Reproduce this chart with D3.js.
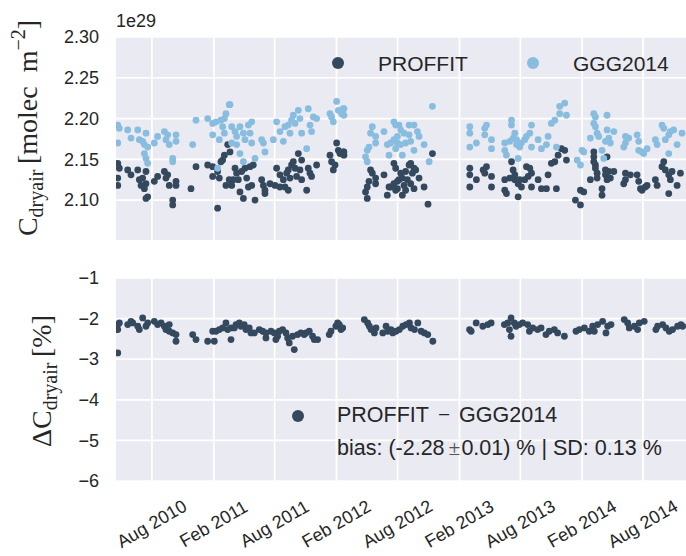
<!DOCTYPE html>
<html><head><meta charset="utf-8">
<script src="https://cdn.jsdelivr.net/npm/d3@7"></script>
<style>body{margin:0;background:#fff;} svg{display:block;}</style>
</head><body>
<svg id="c" width="686" height="556"></svg>
<script>
// ---- data (dates as decimal years) ----
const proffitDates = [2010.302,2010.315,2010.302,2010.302,2010.383,2010.410,2010.465,2010.478,2010.505,2010.492,2010.532,2010.532,2010.519,2010.546,2010.532,2010.600,2010.627,2010.682,2010.695,2010.709,2010.722,2010.777,2010.777,2010.750,2010.750,2010.899,2010.940,2011.035,2011.076,2011.076,2011.130,2011.116,2011.143,2011.157,2011.171,2011.198,2011.184,2011.211,2011.116,
2011.217,2011.258,2011.271,2011.285,2011.244,2011.231,2011.312,2011.339,2011.353,2011.380,2011.407,2011.394,2011.367,2011.298,2011.326,2011.421,2011.475,2011.489,2011.502,2011.502,2011.543,2011.584,2011.597,2011.624,2011.624,2011.652,2011.665,2011.679,2011.692,2011.706,2011.719,2011.733,2011.747,2011.774,2011.760,2011.692,2011.787,2011.801,2011.801,2011.842,2011.855,2011.869,2011.882,2011.923,2012.032,2012.045,2012.059,2012.073,2012.086,2012.100,2012.113,2012.140,
2012.145,2012.145,2012.865,2012.362,2012.376,2012.403,2012.403,2012.349,2012.335,2012.321,2012.335,2012.471,2012.552,2012.566,2012.607,2012.593,2012.620,2012.647,2012.675,2012.688,2012.715,2012.729,2012.702,2012.688,2012.715,2012.756,2012.797,2012.525,2012.552,2012.580,2012.566,2012.634,2012.647,2012.512,2012.498,2012.620,2012.580,2012.661,2012.829,
2013.169,2013.169,2013.169,2013.223,2013.278,2013.305,2013.291,2013.346,2013.346,2013.454,2013.454,2013.468,2013.495,2013.509,2013.522,2013.536,2013.536,2013.563,2013.576,2013.590,2013.563,2013.617,2013.631,2013.658,2013.672,2013.645,2013.672,2013.726,2013.753,2013.794,2013.807,2013.834,2013.862,2013.875,2013.889,2013.916,2013.943,2013.957,
2014.030,2014.071,2014.071,2014.098,2014.152,2014.180,2014.180,2014.180,2014.193,2014.193,2014.207,2014.207,2014.247,2014.247,2014.275,2014.275,2014.288,2014.302,2014.288,2014.343,2014.315,2014.438,2014.438,2014.424,2014.478,2014.533,2014.546,2014.560,2014.573,2014.600,2014.614,2014.682,2014.696,2014.736,2014.750,2014.763,2014.791,2014.804,2014.818,2014.859,2014.886,2014.791];
const proffitValues = [2.145,2.139,2.127,2.118,2.137,2.131,2.137,2.125,2.127,2.118,2.135,2.120,2.114,2.104,2.102,2.123,2.129,2.135,2.127,2.131,2.118,2.123,2.118,2.100,2.094,2.114,2.141,2.143,2.141,2.129,2.127,2.135,2.147,2.149,2.155,2.168,2.118,2.125,2.090,
2.159,2.139,2.133,2.125,2.125,2.118,2.135,2.139,2.127,2.141,2.143,2.118,2.116,2.110,2.102,2.100,2.125,2.118,2.112,2.108,2.120,2.118,2.139,2.131,2.116,2.125,2.116,2.133,2.137,2.127,2.143,2.147,2.139,2.157,2.129,2.112,2.137,2.125,2.149,2.112,2.139,2.133,2.129,2.143,2.155,2.147,2.137,2.143,2.170,2.161,2.157,2.159,
2.159,2.155,2.157,2.137,2.133,2.127,2.120,2.123,2.116,2.110,2.102,2.131,2.145,2.139,2.133,2.125,2.127,2.135,2.143,2.145,2.139,2.137,2.133,2.120,2.114,2.127,2.116,2.116,2.120,2.114,2.112,2.118,2.112,2.116,2.106,2.106,2.123,2.125,2.095,
2.139,2.131,2.116,2.125,2.137,2.141,2.133,2.129,2.116,2.125,2.112,2.108,2.127,2.147,2.137,2.131,2.125,2.120,2.125,2.116,2.104,2.125,2.141,2.139,2.133,2.129,2.116,2.125,2.114,2.114,2.131,2.145,2.147,2.114,2.155,2.163,2.161,2.149,
2.100,2.094,2.112,2.110,2.125,2.159,2.153,2.147,2.143,2.139,2.133,2.127,2.114,2.106,2.137,2.131,2.125,2.135,2.153,2.135,2.127,2.133,2.125,2.120,2.131,2.131,2.123,2.114,2.112,2.116,2.118,2.125,2.118,2.141,2.147,2.137,2.131,2.125,2.135,2.118,2.133,2.108];

const gggDates = [2010.302,2010.315,2010.383,2010.410,2010.465,2010.478,2010.505,2010.532,2010.519,2010.546,2010.302,2010.600,2010.627,2010.682,2010.709,2010.695,2010.722,2010.777,2010.777,2010.519,2010.532,2010.546,2010.750,2010.750,2010.913,2010.940,2011.035,2011.076,2011.103,2011.143,2011.171,2011.184,2011.211,2011.157,2011.171,2011.076,2011.130,2011.116,
2011.217,2011.231,2011.258,2011.271,2011.298,2011.326,2011.339,2011.367,2011.394,2011.380,2011.394,2011.231,2011.271,2011.298,2011.421,2011.326,2011.475,2011.489,2011.502,2011.570,2011.597,2011.624,2011.652,2011.665,2011.692,2011.706,2011.719,2011.733,2011.747,2011.774,2011.787,2011.801,2011.855,2011.869,2011.882,2011.896,2011.923,2011.842,2012.032,2012.045,2012.059,2012.086,2012.100,2012.127,2012.140,
2012.145,2012.145,2012.865,2012.362,2012.376,2012.403,2012.403,2012.471,2012.552,2012.566,2012.593,2012.607,2012.634,2012.675,2012.715,2012.743,2012.756,2012.675,2012.688,2012.580,2012.552,2012.525,2012.580,2012.607,2012.647,2012.566,2012.498,2012.512,2012.620,2012.715,2012.797,2012.349,2012.335,2012.321,2012.335,2012.838,
2013.169,2013.169,2013.169,2013.223,2013.291,2013.305,2013.291,2013.346,2013.346,2013.454,2013.495,2013.509,2013.509,2013.536,2013.522,2013.550,2013.550,2013.576,2013.590,2013.617,2013.631,2013.658,2013.672,2013.672,2013.726,2013.753,2013.794,2013.807,2013.834,2013.862,2013.902,2013.902,2013.943,2013.957,2013.875,2013.454,2013.468,2013.563,
2014.044,2014.071,2014.084,2014.098,2014.152,2014.180,2014.193,2014.180,2014.193,2014.207,2014.220,2014.288,2014.288,2014.302,2014.275,2014.315,2014.343,2014.247,2014.261,2014.438,2014.465,2014.438,2014.424,2014.533,2014.546,2014.546,2014.573,2014.587,2014.614,2014.682,2014.696,2014.736,2014.750,2014.763,2014.791,2014.804,2014.831,2014.791,2014.859,2014.899];
const gggValues = [2.192,2.188,2.186,2.176,2.186,2.174,2.172,2.182,2.168,2.165,2.170,2.170,2.178,2.184,2.180,2.174,2.168,2.180,2.172,2.157,2.151,2.145,2.151,2.147,2.168,2.198,2.200,2.194,2.196,2.198,2.200,2.206,2.217,2.190,2.182,2.180,2.174,2.139,
2.217,2.190,2.184,2.178,2.190,2.182,2.174,2.192,2.196,2.182,2.170,2.170,2.168,2.157,2.151,2.147,2.174,2.170,2.159,2.174,2.196,2.184,2.172,2.190,2.192,2.182,2.198,2.204,2.194,2.210,2.200,2.182,2.212,2.192,2.184,2.202,2.200,2.163,2.206,2.202,2.196,2.221,2.210,2.206,2.212,
2.212,2.204,2.215,2.182,2.190,2.178,2.170,2.184,2.196,2.192,2.192,2.186,2.182,2.192,2.192,2.184,2.178,2.180,2.172,2.178,2.174,2.170,2.170,2.168,2.170,2.163,2.168,2.155,2.155,2.161,2.168,2.165,2.161,2.153,2.147,2.147,
2.190,2.182,2.165,2.170,2.188,2.192,2.180,2.174,2.163,2.170,2.172,2.198,2.192,2.182,2.176,2.174,2.168,2.165,2.170,2.174,2.178,2.182,2.192,2.165,2.174,2.163,2.168,2.178,2.194,2.198,2.206,2.215,2.219,2.204,2.165,2.161,2.155,2.151,
2.149,2.143,2.161,2.159,2.176,2.206,2.202,2.194,2.190,2.182,2.178,2.204,2.186,2.176,2.172,2.170,2.184,2.161,2.151,2.178,2.176,2.170,2.165,2.180,2.172,2.161,2.159,2.157,2.163,2.174,2.168,2.192,2.188,2.174,2.180,2.184,2.186,2.157,2.168,2.182];

const diffDates = [2010.302,2010.302,2010.315,2010.383,2010.410,2010.424,2010.465,2010.478,2010.505,2010.532,2010.546,2010.600,2010.627,2010.655,2010.682,2010.695,2010.722,2010.722,2010.750,2010.777,2010.777,2010.302,2010.913,2010.940,2011.035,2011.089,2011.076,2011.103,2011.130,2011.157,2011.184,2011.198,2011.225,2011.225,2011.252,2011.266,2011.293,2011.306,2011.333,2011.347,2011.374,2011.388,2011.415,2011.456,2011.483,2011.510,2011.510,2011.551,2011.578,2011.605,2011.591,2011.619,2011.646,2011.673,2011.687,2011.700,2011.727,2011.741,2011.768,2011.795,2011.822,
2011.836,2011.863,2011.890,2011.904,2011.931,2012.026,2012.040,2012.080,2012.094,2012.108,2012.121,2012.135,2012.311,2012.338,2012.352,2012.366,2012.393,2012.406,2012.461,2012.488,2012.501,2012.528,2012.542,2012.569,2012.596,2012.624,2012.651,2012.678,2012.691,2012.719,2012.746,2012.773,2012.800,2012.827,2012.868,2013.167,2013.180,2013.221,2013.275,2013.316,2013.343,
2013.451,2013.478,2013.505,2013.492,2013.505,2013.532,2013.546,2013.573,2013.600,2013.641,2013.655,2013.682,2013.722,2013.750,2013.790,2013.817,2013.858,2013.885,2013.940,2014.035,2014.062,2014.103,2014.143,2014.171,2014.184,2014.211,2014.252,2014.279,2014.293,2014.320,2014.428,2014.456,2014.469,2014.510,2014.537,2014.551,2014.591,2014.686,2014.700,2014.741,2014.768,2014.795,2014.822,2014.863,2014.890,2014.904];
const diffValues = [-2.148,-2.271,-2.107,-2.148,-2.066,-2.107,-2.189,-2.271,-1.984,-2.189,-2.107,-2.066,-2.148,-2.107,-2.189,-2.271,-2.148,-2.312,-2.353,-2.394,-2.558,-2.846,-2.394,-2.517,-2.558,-2.558,-2.312,-2.312,-2.271,-2.230,-2.107,-2.271,-2.230,-2.517,-2.230,-2.148,-2.107,-2.189,-2.148,-2.271,-2.230,-2.353,-2.353,-2.271,-2.312,-2.353,-2.476,-2.312,-2.353,-2.435,-2.517,-2.312,-2.271,-2.353,-2.476,-2.599,-2.435,-2.763,-2.394,-2.353,-2.394,
-2.353,-2.312,-2.435,-2.517,-2.517,-2.394,-2.312,-2.189,-2.107,-2.148,-2.271,-2.230,-2.025,-2.107,-2.189,-2.271,-2.353,-2.230,-2.353,-2.189,-2.312,-2.271,-2.353,-2.312,-2.271,-2.189,-2.148,-2.107,-2.230,-2.271,-2.107,-2.312,-2.353,-2.394,-2.558,-2.271,-2.312,-2.107,-2.189,-2.148,-2.107,
-2.148,-2.107,-1.984,-2.271,-2.435,-2.107,-2.189,-2.148,-2.107,-2.148,-2.312,-2.230,-2.271,-2.230,-2.394,-2.312,-2.271,-2.353,-2.435,-2.312,-2.271,-2.230,-2.312,-2.189,-2.312,-2.148,-2.066,-2.353,-2.189,-2.148,-2.025,-2.107,-2.230,-2.189,-2.271,-2.107,-2.066,-2.271,-2.189,-2.148,-2.230,-2.312,-2.271,-2.189,-2.148,-2.189];

const xTickDates = ["2010-08-01","2011-02-01","2011-08-01","2012-02-01","2012-08-01","2013-02-01","2013-08-01","2014-02-01","2014-08-01"];
const xDomain = ["2010-04-16","2014-12-07"];
const topTicks = [2.10,2.15,2.20,2.25,2.30];
const topDomain = [2.051,2.30];
const botTicks = [-6,-5,-4,-3,-2,-1];
const botDomain = [-6,-1];
const seriesNames = ["PROFFIT","GGG2014"];
const diffName = ["PROFFIT", "\u2212", "GGG2014"];
const statsText = ["bias: (-2.28", "\u00b1", "0.01) % | SD: 0.13 %"];

// ---- rendering ----
const DARK = "#34495e", LIGHT = "#88bde0", BG = "#eaeaf2", TXT = "#262626";
const SANS = "'Liberation Sans', Arial, sans-serif";
const SERIF = "'Liberation Serif', 'DejaVu Serif', serif";

function decYear(y){
  const yr = Math.floor(y);
  const s = Date.UTC(yr,0,1), e = Date.UTC(yr+1,0,1);
  return new Date(s + (y-yr)*(e-s));
}
const svg = d3.select("#c");
const L = 116, R = 686;
const x = d3.scaleUtc().domain(xDomain.map(d=>new Date(d))).range([L,R]);
const tickDates = xTickDates.map(d=>new Date(d));

function panel(top, bottom, domain, ticks, fmt){
  const y = d3.scaleLinear().domain(domain).range([bottom, top]);
  const g = svg.append("g");
  g.append("rect").attr("x",L).attr("y",top).attr("width",R-L).attr("height",bottom-top).attr("fill",BG);
  g.selectAll(".vg").data(tickDates).join("line")
    .attr("x1",d=>x(d)).attr("x2",d=>x(d)).attr("y1",top).attr("y2",bottom)
    .attr("stroke","#fff").attr("stroke-width",1.7);
  g.selectAll(".hg").data(ticks).join("line")
    .attr("x1",L).attr("x2",R).attr("y1",d=>y(d)).attr("y2",d=>y(d))
    .attr("stroke","#fff").attr("stroke-width",1.7);
  const yAxis = d3.axisLeft(y).tickValues(ticks).tickSize(0).tickPadding(0).tickFormat(fmt);
  const ag = svg.append("g").attr("transform",`translate(${L-17},0)`).call(yAxis);
  ag.select(".domain").remove();
  ag.selectAll("text").attr("font-family",SANS).attr("font-size",18).attr("fill",TXT);
  return y;
}

const yTop = panel(37, 240, topDomain, topTicks, d=>d.toFixed(2));
const yBot = panel(278, 481, botDomain, botTicks, d=>String(d).replace("-","\u2212"));

// clip
svg.append("clipPath").attr("id","cp1").append("rect").attr("x",L).attr("y",37).attr("width",R-L).attr("height",203);
svg.append("clipPath").attr("id","cp2").append("rect").attr("x",L).attr("y",278).attr("width",R-L).attr("height",203);

const pts1 = svg.append("g").attr("clip-path","url(#cp1)");
pts1.selectAll(".p").data(d3.zip(proffitDates, proffitValues)).join("circle")
  .attr("cx",d=>x(decYear(d[0]))).attr("cy",d=>yTop(d[1])).attr("r",3.4).attr("fill",DARK);
pts1.selectAll(".g").data(d3.zip(gggDates, gggValues)).join("circle")
  .attr("cx",d=>x(decYear(d[0]))).attr("cy",d=>yTop(d[1])).attr("r",3.4).attr("fill",LIGHT);

const pts2 = svg.append("g").attr("clip-path","url(#cp2)");
pts2.selectAll(".d").data(d3.zip(diffDates, diffValues)).join("circle")
  .attr("cx",d=>x(decYear(d[0]))).attr("cy",d=>yBot(d[1])).attr("r",3.4).attr("fill",DARK);

// x axis (bottom panel)
const xAxis = d3.axisBottom(x).tickValues(tickDates).tickSize(0).tickFormat(d3.utcFormat("%b %Y"));
const xg = svg.append("g").attr("transform","translate(0,481)").call(xAxis);
xg.select(".domain").remove();
xg.selectAll("text").attr("font-family",SANS).attr("font-size",18).attr("fill",TXT)
  .attr("text-anchor","middle").attr("dy",null).attr("y",null)
  .attr("transform","translate(0,44) rotate(-30)").attr("dominant-baseline","middle");

// offset text
svg.append("text").attr("x",116).attr("y",27).attr("font-family",SANS).attr("font-size",18).attr("fill",TXT).text("1e29");

// legend top
const legTop = [{n:seriesNames[0],c:DARK,x:338},{n:seriesNames[1],c:LIGHT,x:533}];
legTop.forEach(d=>{
  svg.append("circle").attr("cx",d.x).attr("cy",63).attr("r",6).attr("fill",d.c);
  svg.append("text").attr("x",d.x+40).attr("y",71).attr("font-family",SANS).attr("font-size",21).attr("fill",TXT).text(d.n);
});
// legend bottom
svg.append("circle").attr("cx",298).attr("cy",416).attr("r",6).attr("fill",DARK);
const t1 = svg.append("text").attr("x",337).attr("y",422).attr("font-family",SANS).attr("font-size",21.5).attr("fill",TXT);
t1.append("tspan").text(diffName[0]);
t1.append("tspan").attr("dx",9).attr("font-family",SERIF).text(diffName[1]);
t1.append("tspan").attr("dx",9).text(diffName[2]);
const t2 = svg.append("text").attr("x",337).attr("y",455).attr("font-family",SANS).attr("font-size",21.5).attr("fill",TXT);
t2.append("tspan").text(statsText[0]);
t2.append("tspan").attr("dx",4).attr("font-family",SERIF).attr("fill","#555").text(statsText[1]);
t2.append("tspan").attr("dx",1).text(statsText[2]);

// y labels
function ylab(cx, cy, parts){
  const t = svg.append("text").attr("transform",`translate(${cx},${cy}) rotate(-90)`)
    .attr("text-anchor","middle").attr("font-family",SERIF).attr("font-size",28).attr("fill",TXT);
  parts.forEach(p=>{
    const ts = t.append("tspan").text(p.t);
    if(p.sub){ ts.attr("font-size",20).attr("dy",6); }
    if(p.sup){ ts.attr("font-size",20).attr("dy",-12); }
    if(p.back){ ts.attr("dy",p.back); }
  });
}
ylab(37, 128, [{t:"C"},{t:"dryair",sub:true},{t:"\u2009[molec\u2002m",back:-6},{t:"\u22122",sup:true},{t:"]",back:12}]);
ylab(51, 381, [{t:"\u0394C"},{t:"dryair",sub:true},{t:"\u2009[%]",back:-6}]);
</script>
</body></html>
